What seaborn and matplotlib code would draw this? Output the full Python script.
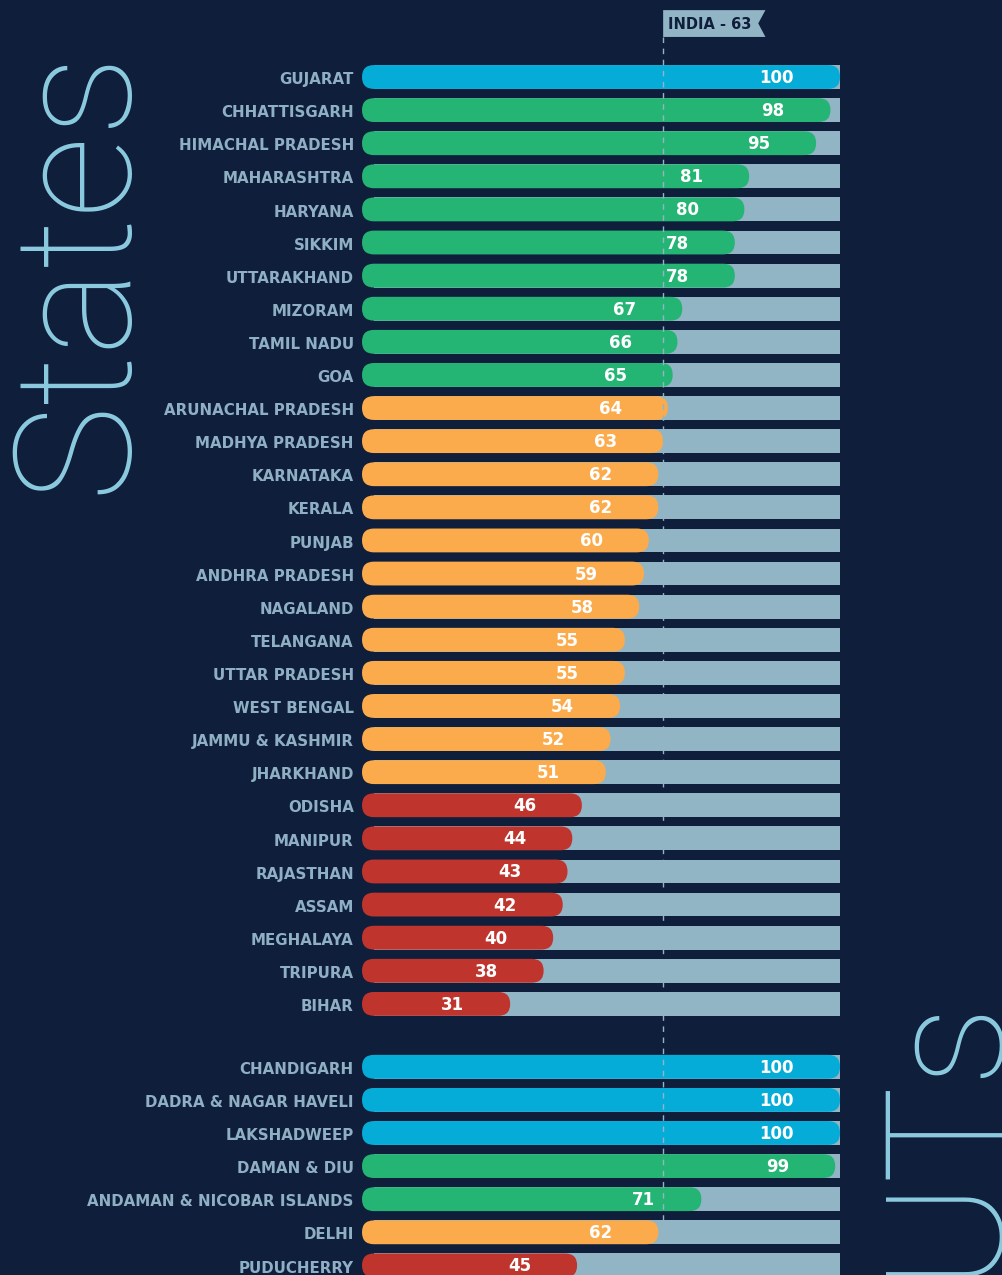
import matplotlib
matplotlib.use('Agg')
import matplotlib.pyplot as plt
from matplotlib.patches import FancyBboxPatch, Polygon
import pandas as pd
import seaborn as sns

state_names = ['GUJARAT', 'CHHATTISGARH', 'HIMACHAL PRADESH', 'MAHARASHTRA', 'HARYANA', 'SIKKIM',
               'UTTARAKHAND', 'MIZORAM', 'TAMIL NADU', 'GOA', 'ARUNACHAL PRADESH', 'MADHYA PRADESH',
               'KARNATAKA', 'KERALA', 'PUNJAB', 'ANDHRA PRADESH', 'NAGALAND', 'TELANGANA',
               'UTTAR PRADESH', 'WEST BENGAL', 'JAMMU & KASHMIR', 'JHARKHAND', 'ODISHA', 'MANIPUR',
               'RAJASTHAN', 'ASSAM', 'MEGHALAYA', 'TRIPURA', 'BIHAR']
state_scores = [100, 98, 95, 81, 80, 78, 78, 67, 66, 65, 64, 63, 62, 62, 60, 59, 58, 55, 55, 54,
                52, 51, 46, 44, 43, 42, 40, 38, 31]
ut_names = ['CHANDIGARH', 'DADRA & NAGAR HAVELI', 'LAKSHADWEEP', 'DAMAN & DIU',
            'ANDAMAN & NICOBAR ISLANDS', 'DELHI', 'PUDUCHERRY']
ut_scores = [100, 100, 100, 99, 71, 62, 45]
india_score = 63

bg = '#0f1e3b'
track = '#91b5c5'
label_col = '#8fb0c4'
big_col = '#8ccbe0'
tier_colors = {'achiever': '#05acd7', 'front': '#24b474', 'performer': '#fbab4b', 'aspirant': '#bf352e'}


def tier(v):
    if v >= 100:
        return 'achiever'
    if v >= 65:
        return 'front'
    if v >= 50:
        return 'performer'
    return 'aspirant'


# row positions: states 0..28, UTs after a gap
pos = list(range(len(state_names))) + [29.9 + i for i in range(len(ut_names))]
df = pd.DataFrame({
    'name': state_names + ut_names,
    'score': state_scores + ut_scores,
    'pos': pos,
})
df['tier'] = df['score'].apply(tier)
df['full'] = 100

W, H = 1002, 1275
fig = plt.figure(figsize=(W / 100, H / 100), dpi=100, facecolor=bg)
ax = fig.add_axes([362 / W, 0, 478 / W, 1])
ax.set_facecolor(bg)

y_top, y_bot = -2.326, 36.19
px_x = 478 / 100
px_y = H / (y_bot - y_top)
bar_h = 0.72
r_px = bar_h * px_y / 2
r_x = r_px / px_x

sns.barplot(data=df, x='full', y='pos', orient='y', native_scale=True, color=track,
            width=bar_h, saturation=1, ax=ax, errorbar=None, linewidth=0)
n_track = len(ax.patches)
# track starts under the rounded end of the coloured bar
for p in ax.patches[:n_track]:
    p.set_x(r_x)
    p.set_width(100 - r_x)

sns.barplot(data=df, x='score', y='pos', hue='tier', palette=tier_colors, orient='y',
            native_scale=True, dodge=False, width=bar_h, saturation=1, ax=ax,
            errorbar=None, legend=False, linewidth=0)

# round the coloured bars
for p in list(ax.patches[n_track:]):
    x0, y0, w, h = p.get_x(), p.get_y(), p.get_width(), p.get_height()
    fc = p.get_facecolor()
    p.remove()
    if w <= 0:
        continue
    ax.add_patch(FancyBboxPatch((x0, y0), w, h, boxstyle=f'round,pad=0,rounding_size={r_x}',
                                mutation_aspect=(r_px / px_y) / r_x, fc=fc, ec='none', zorder=3))

ax.set_xlim(0, 100)
ax.set_ylim(y_bot, y_top)
ax.axis('off')

for _, row in df.iterrows():
    ax.text(-1.7, row['pos'] + 0.08, row['name'], ha='right', va='center', color=label_col,
            fontsize=10.8, fontweight='bold', family='DejaVu Sans')
    ax.text(row['score'] - 9.6, row['pos'] + 0.03, str(row['score']), ha='right', va='center',
            color='white', fontsize=12, fontweight='bold', family='DejaVu Sans', zorder=5)

# India average line and flag
ax.plot([india_score, india_score], [-1.21, 35.3], color=track, lw=1, ls=(0, (4, 4)), zorder=4)
flag = Polygon([(india_score, -2.02), (india_score + 21.4, -2.02), (india_score + 19.9, -1.62),
                (india_score + 21.4, -1.21), (india_score, -1.21)], closed=True,
               fc=track, ec='none', clip_on=False)
ax.add_patch(flag)
ax.text(india_score + 1.0, -1.6, f'INDIA - {india_score}', ha='left', va='center',
        color=bg, fontsize=10.5, fontweight='bold', family='DejaVu Sans')

# big rotated titles
fig.text(123 / W, 1 - 47 / H, 'States', rotation=90, rotation_mode='anchor', ha='right',
         va='baseline', color=big_col, fontsize=117, family='Roboto', fontweight=100)
fig.text(988 / W, 1 - 990 / H, 'UTs', rotation=90, rotation_mode='anchor', ha='right',
         va='baseline', color=big_col, fontsize=117, family='Roboto', fontweight=100)

fig.savefig('out.png', dpi=100, facecolor=bg)
